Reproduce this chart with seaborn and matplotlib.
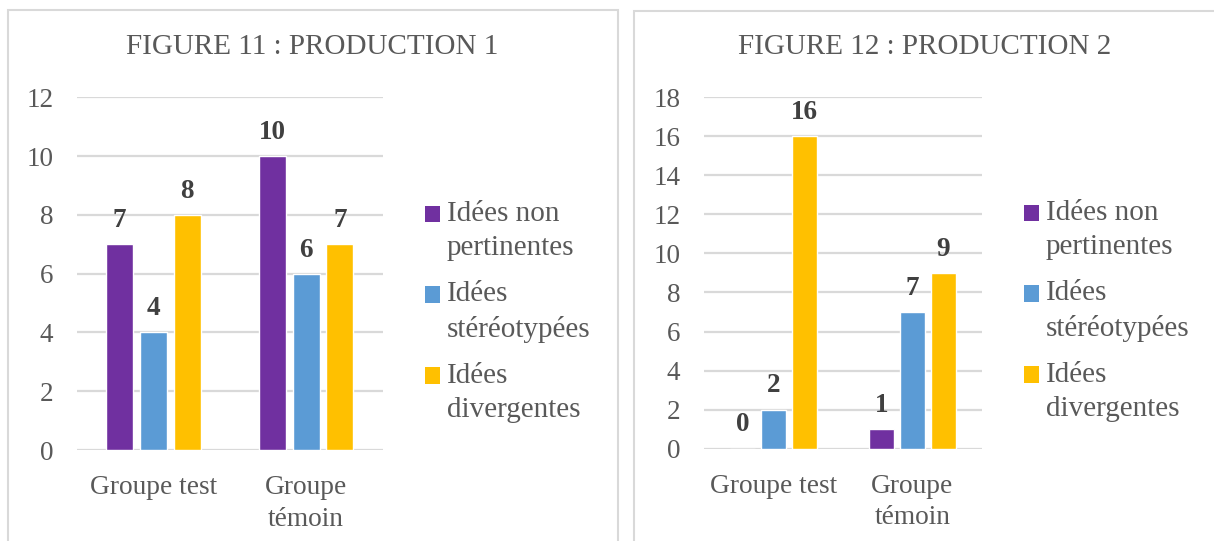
import numpy as np
import pandas as pd

import matplotlib
matplotlib.use("Agg")
import matplotlib.pyplot as plt
from matplotlib.patches import Patch, Rectangle
import seaborn as sns


groupes = ["Groupe test", "Groupe\ntémoin"]
types_idees = ["Idées non\npertinentes", "Idées\nstéréotypées", "Idées\ndivergentes"]

# production 1 : valeurs par type (ordre des groupes)
prod1_non_pertinentes = [7, 10]
prod1_stereotypees = [4, 6]
prod1_divergentes = [8, 7]

# production 2
prod2_non_pertinentes = [0, 1]
prod2_stereotypees = [2, 7]
prod2_divergentes = [16, 9]

titres = ["FIGURE 11 : PRODUCTION 1", "FIGURE 12 : PRODUCTION 2"]
yticks_1 = [0, 2, 4, 6, 8, 10, 12]
yticks_2 = [0, 2, 4, 6, 8, 10, 12, 14, 16, 18]

couleurs = ["#7030A0", "#5B9BD5", "#FFC000"]
gris = "#595959"
W, H = 1214, 541


def to_long(series):
    rows = []
    for t, vals in zip(types_idees, series):
        for g, v in zip(groupes, vals):
            rows.append({"groupe": g, "type": t, "valeur": v})
    return pd.DataFrame(rows)


def draw_panel(fig, ax, df, titre, yticks, title_xy, legend_xy):
    sns.barplot(data=df, x="groupe", y="valeur", hue="type", hue_order=types_idees,
                order=groupes, palette=couleurs, width=0.664, gap=0.2,
                errorbar=None, legend=False, ax=ax, saturation=1)
    ax.set_ylim(yticks[0], yticks[-1])
    ax.set_yticks(yticks)
    ax.set_xlim(-0.5, 1.5)
    ax.set_xlabel("")
    ax.set_ylabel("")
    for s in ax.spines.values():
        s.set_visible(False)
    ax.grid(axis="y", color="#D9D9D9", linewidth=1.6)
    ax.set_axisbelow(True)
    ax.tick_params(axis="both", length=0, colors=gris)
    ax.tick_params(axis="y", labelsize=19.5, pad=17)
    ax.tick_params(axis="x", labelsize=19.7, pad=18)
    for lab in ax.get_xticklabels():
        lab.set_linespacing(1.35)
    for cont in ax.containers:
        ax.bar_label(cont, fmt="%d", padding=8, fontsize=19.5, fontweight="bold",
                     color="#404040")
    fig.text(title_xy[0] / W, 1 - title_xy[1] / H, titre, ha="center", va="center",
             fontsize=21, color=gris)
    handles = [Patch(facecolor=c, edgecolor="none") for c in couleurs]
    leg = fig.legend(handles, types_idees, loc="center left",
                     bbox_to_anchor=(legend_xy[0] / W, 1 - legend_xy[1] / H),
                     bbox_transform=fig.transFigure, frameon=False, fontsize=21,
                     labelcolor=gris, handlelength=0.5, handleheight=0.5,
                     handletextpad=0.24, labelspacing=0.68, borderpad=0, borderaxespad=0)
    for t in leg.get_texts():
        t.set_linespacing(1.4)
    # carré aligné sur la première ligne du libellé
    for h in leg.legend_handles:
        h.set_y(h.get_y() + 12.2)


def main():
    sns.set_style("white")
    plt.rcParams["font.family"] = ["Liberation Serif", "DejaVu Serif"]

    fig = plt.figure(figsize=(W / 100, H / 100), dpi=100)

    # cadres des deux graphiques
    fig.add_artist(Rectangle((8 / W, -0.1), 610 / W, 1.1 - 10 / H, transform=fig.transFigure,
                             fill=False, edgecolor="#D9D9D9", linewidth=1.5))
    fig.add_artist(Rectangle((634 / W, -0.1), 700 / W, 1.1 - 11 / H, transform=fig.transFigure,
                             fill=False, edgecolor="#D9D9D9", linewidth=1.5))

    ax1 = fig.add_axes([77 / W, 1 - 450 / H, 305.5 / W, 352.7 / H])
    ax2 = fig.add_axes([704 / W, 1 - 448.6 / H, 278 / W, 351.3 / H])

    df1 = to_long([prod1_non_pertinentes, prod1_stereotypees, prod1_divergentes])
    df2 = to_long([prod2_non_pertinentes, prod2_stereotypees, prod2_divergentes])

    draw_panel(fig, ax1, df1, titres[0], yticks_1, (312, 47), (425, 312))
    draw_panel(fig, ax2, df2, titres[1], yticks_2, (925, 47), (1024, 311))

    fig.savefig("out.png", dpi=100)


if __name__ == '__main__':
    main()
